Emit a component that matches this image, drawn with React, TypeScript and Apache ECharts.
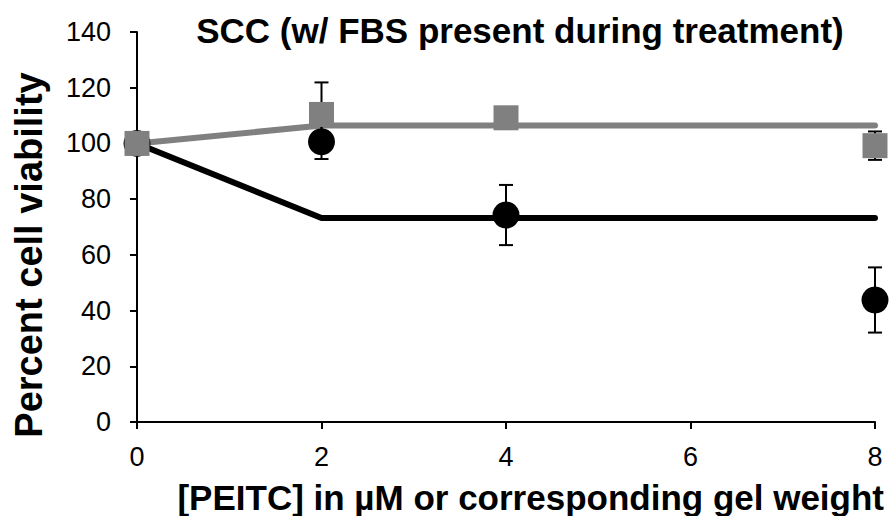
import React, { useEffect, useRef } from "react";
import * as echarts from "echarts";

const xTicks = [0, 2, 4, 6, 8];
const doses = [0, 2, 4, 8];
const blackMeans = [100, 100.6, 74.3, 43.8];
const blackErr = [0, 6.2, 10.8, 11.7];
const grayMeans = [100, 110.4, 109.2, 99.2];
const grayErr = [0, 11.5, 0, 5.1];
const blackFitX = [0, 2, 8];
const blackFitY = [100, 73.2, 73.2];
const grayFitX = [0, 2, 8];
const grayFitY = [100, 106.4, 106.4];

const FONT = "Liberation Sans, Arial, sans-serif";

function errSeries(means: number[], errs: number[], color: string, z: number) {
  const data = doses.map((d, i) => [d, means[i] - errs[i], means[i] + errs[i]]);
  return {
    type: "custom",
    z,
    silent: true,
    data: data.filter((_, i) => errs[i] > 0),
    renderItem: (params: any, api: any) => {
      const x = api.value(0);
      const lo = api.coord([x, api.value(1)]);
      const hi = api.coord([x, api.value(2)]);
      const w = 7;
      const style = { stroke: color, lineWidth: 2 };
      return {
        type: "group",
        children: [
          { type: "line", shape: { x1: lo[0], y1: lo[1], x2: hi[0], y2: hi[1] }, style },
          { type: "line", shape: { x1: lo[0] - w, y1: lo[1], x2: lo[0] + w, y2: lo[1] }, style },
          { type: "line", shape: { x1: hi[0] - w, y1: hi[1], x2: hi[0] + w, y2: hi[1] }, style },
        ],
      };
    },
  };
}

export default function App() {
  const ref = useRef<HTMLDivElement>(null);
  useEffect(() => {
    if (!ref.current) return;
    const chart = echarts.init(ref.current, null, { renderer: "svg" });
    chart.setOption({
      animation: false,
      backgroundColor: "#ffffff",
      grid: { left: 137, right: 19, top: 32, bottom: 94, containLabel: false },
      graphic: [
        {
          type: "text",
          x: 520,
          y: 30,
          style: {
            text: "SCC (w/ FBS present during treatment)",
            fontFamily: FONT,
            fontSize: 35,
            fontWeight: "bold",
            fill: "#000",
            textAlign: "center",
            textVerticalAlign: "middle",
          },
        },
        {
          type: "text",
          x: 29,
          y: 255,
          rotation: Math.PI / 2,
          style: {
            text: "Percent cell viability",
            fontFamily: FONT,
            fontSize: 38,
            fontWeight: "bold",
            fill: "#000",
            textAlign: "center",
            textVerticalAlign: "middle",
          },
        },
        {
          type: "text",
          x: 884,
          y: 497,
          style: {
            text: "[PEITC] in µM or corresponding gel weight",
            fontFamily: FONT,
            fontSize: 35,
            fontWeight: "bold",
            fill: "#000",
            textAlign: "right",
            textVerticalAlign: "middle",
          },
        },
      ],
      xAxis: {
        type: "value",
        min: xTicks[0],
        max: xTicks[xTicks.length - 1],
        interval: 2,
        axisLine: { lineStyle: { color: "#000", width: 2 } },
        axisTick: { show: true, length: 7, inside: false, lineStyle: { color: "#000", width: 2 } },
        axisLabel: { fontFamily: FONT, fontSize: 27, color: "#000", margin: 21 },
        splitLine: { show: false },
      },
      yAxis: {
        type: "value",
        min: 0,
        max: 140,
        interval: 20,
        axisLine: { show: true, lineStyle: { color: "#000", width: 2 } },
        axisTick: { show: true, length: 7, inside: false, lineStyle: { color: "#000", width: 2 } },
        axisLabel: { fontFamily: FONT, fontSize: 27, color: "#000", margin: 26 },
        splitLine: { show: false },
      },
      series: [
        {
          type: "line",
          z: 2,
          data: blackFitX.map((x, i) => [x, blackFitY[i]]),
          showSymbol: false,
          symbol: "none",
          lineStyle: { color: "#000", width: 6, cap: "round" },
        },
        {
          type: "line",
          z: 2,
          data: grayFitX.map((x, i) => [x, grayFitY[i]]),
          showSymbol: false,
          symbol: "none",
          lineStyle: { color: "#808080", width: 6, cap: "round" },
        },
        errSeries(blackMeans, blackErr, "#000", 3),
        {
          type: "scatter",
          z: 4,
          data: doses.map((d, i) => [d, blackMeans[i]]),
          symbol: "circle",
          symbolSize: 27,
          itemStyle: { color: "#000", opacity: 1 },
        },
        errSeries(grayMeans, grayErr, "#000", 5),
        {
          type: "scatter",
          z: 6,
          data: doses.map((d, i) => [d, grayMeans[i]]),
          symbol: "rect",
          symbolSize: 25,
          itemStyle: { color: "#808080", opacity: 1 },
        },
      ],
    });
    return () => chart.dispose();
  }, []);
  return <div ref={ref} style={{ width: 894, height: 516, position: "absolute", left: 0, top: 0 }} />;
}
